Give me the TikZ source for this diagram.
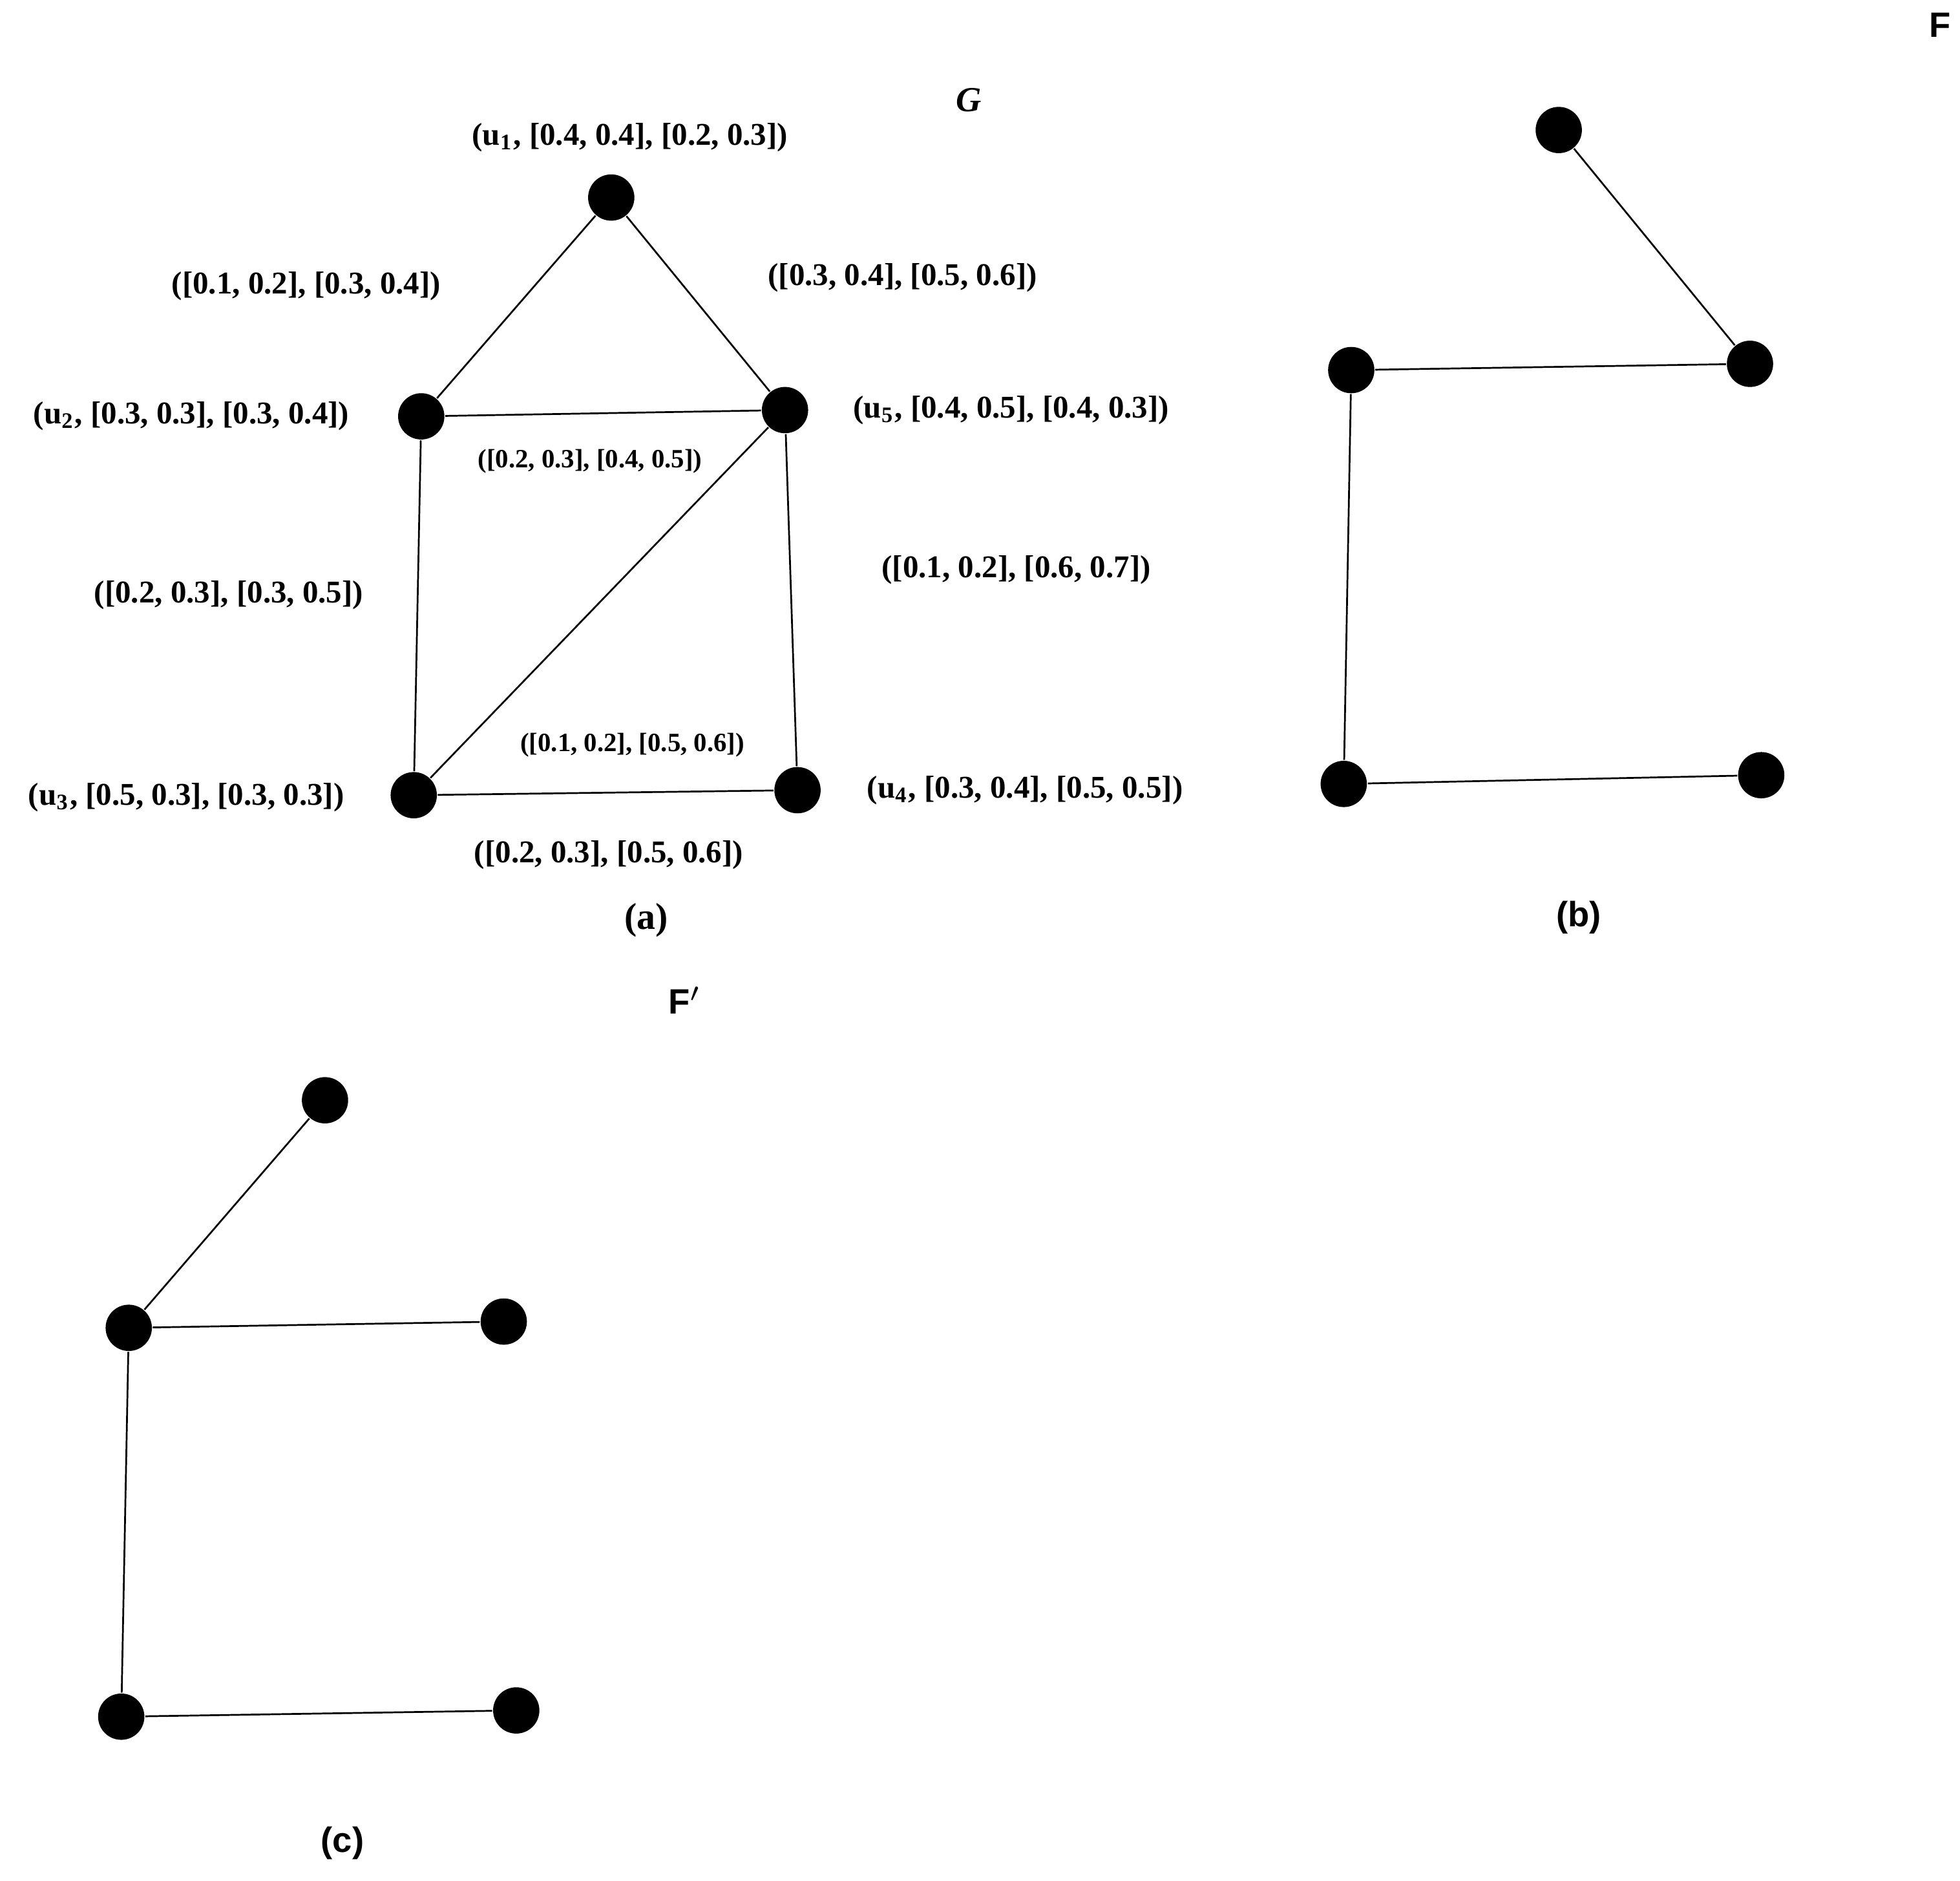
\documentclass[tikz,border=0pt]{standalone}
\usepackage{fontspec}
\setmainfont{Liberation Serif}
\newfontfamily\capsans{Liberation Sans}
\begin{document}
\begin{tikzpicture}[x=0.01cm,y=-0.01cm,
    dot/.style={circle,fill=black,inner sep=0pt,minimum size=0.37cm},
    lab/.style={font=\fontsize{7.2}{8}\selectfont\bfseries},
    slab/.style={font=\fontsize{6}{7}\selectfont\bfseries},
    capt/.style={font=\capsans\fontsize{8}{9}\selectfont\bfseries}]
        \useasboundingbox (0,0) rectangle (1568,1504);
        % Nodes of G
        \node[dot] (u1) at (489,158) {};
        \node[dot] (u2) at (337,333) {};
        \node[dot] (u5) at (628,328) {};
        \node[dot] (u3) at (331,636) {};
        \node[dot] (u4) at (638,632) {};

        % Edges of G
        \foreach \a/\b in {u1/u2,u1/u5,u2/u5,u2/u3,u5/u3,u5/u4,u3/u4} {
            \draw[thin] (\a) -- (\b);
        }

        \node[lab] (l1) at (504,110) {(u\textsubscript{1}, [0.4, 0.4], [0.2, 0.3])};
        \node[lab] (l2) at (153,333) {(u\textsubscript{2}, [0.3, 0.3], [0.3, 0.4])};
        \node[lab] (l5) at (809,328) {(u\textsubscript{5}, [0.4, 0.5], [0.4, 0.3])};
        \node[lab] (l3) at (149,638) {(u\textsubscript{3}, [0.5, 0.3], [0.3, 0.3])};
        \node[lab] (l4) at (820,632) {(u\textsubscript{4}, [0.3, 0.4], [0.5, 0.5])};
        \node[lab] (e12) at (245,229) {([0.1, 0.2], [0.3, 0.4])};
        \node[lab] (e15) at (722,222) {([0.3, 0.4], [0.5, 0.6])};
        \node[slab] (e25) at (472,369) {([0.2, 0.3], [0.4, 0.5])};
        \node[lab] (e23) at (183,476) {([0.2, 0.3], [0.3, 0.5])};
        \node[lab] (e54) at (813,456) {([0.1, 0.2], [0.6, 0.7])};
        \node[slab] (e53) at (506,596) {([0.1, 0.2], [0.5, 0.6])};
        \node[lab] (e34) at (487,684) {([0.2, 0.3], [0.5, 0.6])};
        \node[lab,font=\fontsize{8}{9}\selectfont\bfseries\itshape] (G) at (775,80) {G};
        \node[lab,font=\fontsize{8.5}{9}\selectfont\bfseries] (ca) at (517,736) {(a)};

        % Nodes of F
        \node[dot] (b1) at (1247,104) {};
        \node[dot] (b2) at (1400,291) {};
        \node[dot] (b3) at (1081,296) {};
        \node[dot] (b4) at (1075,627) {};
        \node[dot] (b5) at (1409,620) {};
        \foreach \a/\b in {b1/b2,b3/b2,b3/b4,b4/b5} {
            \draw[thin] (\a) -- (\b);
        }
        \node[capt] (F) at (1552,20) {F};
        \node[capt] (cb) at (1263,734) {(b)};

        % Nodes of F'
        \node[dot] (c1) at (260,880) {};
        \node[dot] (c2) at (103,1062) {};
        \node[dot] (c3) at (403,1057) {};
        \node[dot] (c4) at (97,1373) {};
        \node[dot] (c5) at (413,1368) {};
        \foreach \a/\b in {c1/c2,c2/c3,c2/c4,c4/c5} {
            \draw[thin] (\a) -- (\b);
        }
        \node[capt] (Fp) at (548,800) {F$'$};
        \node[capt] (cc) at (274,1474) {(c)};
\end{tikzpicture}
\end{document}
